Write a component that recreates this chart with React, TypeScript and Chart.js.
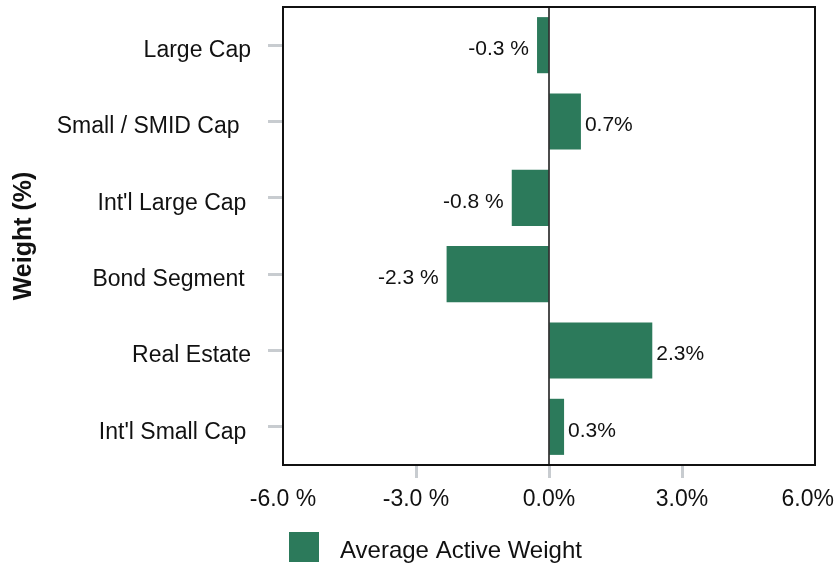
import React, { useEffect, useRef } from "react";
import { Chart, registerables } from "chart.js";

Chart.register(...registerables);

// ---- data ----
const categories = [
  "Large Cap",
  "Small / SMID Cap\u2002",
  "Int'l Large Cap\u2009",
  "Bond Segment ",
  "Real Estate",
  "Int'l Small Cap\u2009",
];
const activeWeights = [-0.27, 0.72, -0.84, -2.31, 2.33, 0.34];
const xTickValues = [-6, -3, 0, 3, 6];
const seriesName = "Average Active Weight";
const yAxisTitle = "Weight (%)";

// ---- styles ----
const GREEN = "#2c7a5b";
const INK = "#111111";
const TICK_GREY = "#c8ccd0";
const FONT = "'Liberation Sans', Arial, Helvetica, sans-serif";

const fmtPct = (v: number) => (v < 0 ? `${v.toFixed(1)} %` : `${v.toFixed(1)}%`);

const decorPlugin = {
  id: "decor",
  afterDatasetsDraw(chart: any) {
    const ctx = chart.ctx as CanvasRenderingContext2D;
    const { left, top, right, bottom } = chart.chartArea;
    ctx.save();

    // zero line on top of bars
    const xs = chart.scales.x;
    const zx = xs.getPixelForValue(0);
    ctx.strokeStyle = INK;
    ctx.lineWidth = 1.5;
    ctx.beginPath();
    ctx.moveTo(zx, top);
    ctx.lineTo(zx, bottom);
    ctx.stroke();

    // value labels
    const meta = chart.getDatasetMeta(0);
    ctx.font = `21px ${FONT}`;
    ctx.fillStyle = INK;
    ctx.textBaseline = "middle";
    meta.data.forEach((bar: any, i: number) => {
      const v = activeWeights[i];
      const txt = fmtPct(v);
      if (v >= 0) {
        ctx.textAlign = "left";
        ctx.fillText(txt, bar.x + 4, bar.y + 4);
      } else {
        ctx.textAlign = "right";
        ctx.fillText(txt, bar.x - 8, bar.y + 4);
      }
    });

    // plot border
    ctx.strokeStyle = INK;
    ctx.lineWidth = 2;
    ctx.strokeRect(left, top, right - left, bottom - top);

    // x tick labels (kept inside the canvas)
    ctx.font = `23px ${FONT}`;
    ctx.textAlign = "left";
    xs.ticks.forEach((t: any) => {
      const px = xs.getPixelForValue(t.value);
      const txt = fmtPct(t.value);
      const w = ctx.measureText(txt).width;
      const x0 = Math.min(px - w / 2, chart.width - 2 - w);
      ctx.fillText(txt, x0, bottom + 35);
    });

    // legend
    ctx.fillStyle = GREEN;
    ctx.fillRect(289, 532, 30, 30);
    ctx.fillStyle = INK;
    ctx.font = `24px ${FONT}`;
    ctx.textAlign = "left";
    ctx.fillText(seriesName, 340, 551);

    ctx.restore();
  },
};

export default function App() {
  const ref = useRef<HTMLCanvasElement | null>(null);

  useEffect(() => {
    if (!ref.current) return;
    Chart.defaults.font.family = FONT;
    const chart = new Chart(ref.current, {
      type: "bar",
      data: {
        labels: categories,
        datasets: [
          {
            label: seriesName,
            data: activeWeights,
            backgroundColor: GREEN,
            borderWidth: 0,
            barPercentage: 0.735,
            categoryPercentage: 1,
          },
        ],
      },
      options: {
        indexAxis: "y",
        responsive: false,
        animation: false,
        devicePixelRatio: 1,
        layout: { padding: { left: 5, right: 21, top: 7, bottom: 87 } },
        plugins: {
          legend: { display: false },
          tooltip: { enabled: false },
          title: { display: false },
        },
        scales: {
          x: {
            type: "linear",
            min: -6,
            max: 6,
            afterBuildTicks: (s: any) => {
              s.ticks = xTickValues.map((v) => ({ value: v }));
            },
            ticks: { display: false },
            grid: {
              display: true,
              drawOnChartArea: false,
              drawTicks: true,
              tickLength: 13,
              tickWidth: 3,
              tickColor: (c: any) =>
                c.index === 0 || c.index === xTickValues.length - 1 ? "rgba(0,0,0,0)" : TICK_GREY,
            },
            border: { display: false },
          },
          y: {
            type: "category",
            position: "left",
            afterFit: (s: any) => {
              s.width = 283 - 5;
              s.paddingTop = 0;
              s.paddingBottom = 0;
            },
            ticks: {
              color: INK,
              font: { size: 23, family: FONT },
              padding: 17,
              labelOffset: 5.5,
              autoSkip: false,
            },
            grid: {
              display: true,
              offset: false,
              drawOnChartArea: false,
              drawTicks: true,
              tickLength: 15,
              tickWidth: 3,
              tickColor: TICK_GREY,
            },
            border: { display: false },
            title: {
              display: true,
              text: yAxisTitle,
              color: INK,
              font: { size: 25, weight: "bold", family: FONT },
              padding: { top: 4, bottom: 4 },
            },
          },
        },
      },
      plugins: [decorPlugin],
    } as any);
    return () => chart.destroy();
  }, []);

  return (
    <div style={{ position: "absolute", left: 0, top: 0, width: 836, height: 565, background: "#fff" }}>
      <canvas ref={ref} width={836} height={565} />
    </div>
  );
}
